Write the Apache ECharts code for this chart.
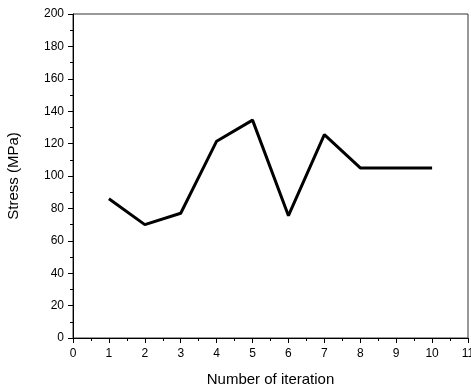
<!DOCTYPE html>
<html><head><meta charset="utf-8">
<script src="https://cdn.jsdelivr.net/npm/echarts@6/dist/echarts.min.js"></script>
<style>html,body{margin:0;padding:0;background:#fff}#c{width:471px;height:390px}</style>
</head><body><div id="c"></div>
<script>
const iterations = [1, 2, 3, 4, 5, 6, 7, 8, 9, 10];
const stress = [86, 70, 77, 121.5, 134.5, 75.5, 125.5, 105, 105, 105];
const xTitle = 'Number of iteration';
const yTitle = 'Stress (MPa)';

const chart = echarts.init(document.getElementById('c'), null, {renderer: 'canvas'});
const font = 'Liberation Sans, Arial, sans-serif';
chart.setOption({
  animation: false,
  backgroundColor: '#fff',
  grid: {left: 73, right: 3, top: 14, bottom: 52, show: true, borderColor: '#333', borderWidth: 1,
         containLabel: false, outerBoundsMode: 'none'},
  xAxis: {
    type: 'value', min: 0, max: 11, interval: 1,
    name: xTitle, nameLocation: 'middle', nameGap: 34,
    nameTextStyle: {fontFamily: font, fontSize: 15, color: '#000'},
    axisLine: {lineStyle: {color: '#000', width: 1}},
    axisTick: {show: true, inside: false, length: 5, lineStyle: {color: '#000'}},
    minorTick: {show: true, splitNumber: 2, length: 3, lineStyle: {color: '#000'}},
    axisLabel: {fontFamily: font, fontSize: 12, color: '#000', margin: 10},
    splitLine: {show: false}
  },
  yAxis: {
    type: 'value', min: 0, max: 200, interval: 20,
    name: yTitle, nameLocation: 'middle', nameGap: 52,
    nameTextStyle: {fontFamily: font, fontSize: 15, color: '#000'},
    axisLine: {show: true, lineStyle: {color: '#000', width: 1}},
    axisTick: {show: true, inside: false, length: 5, lineStyle: {color: '#000'}},
    minorTick: {show: true, splitNumber: 2, length: 3, lineStyle: {color: '#000'}},
    axisLabel: {fontFamily: font, fontSize: 12, color: '#000', margin: 9},
    splitLine: {show: false}
  },
  series: [{
    type: 'line',
    data: iterations.map((x, i) => [x, stress[i]]),
    showSymbol: false,
    lineStyle: {color: '#000', width: 3},
    itemStyle: {color: '#000'}
  }]
});
</script></body></html>
